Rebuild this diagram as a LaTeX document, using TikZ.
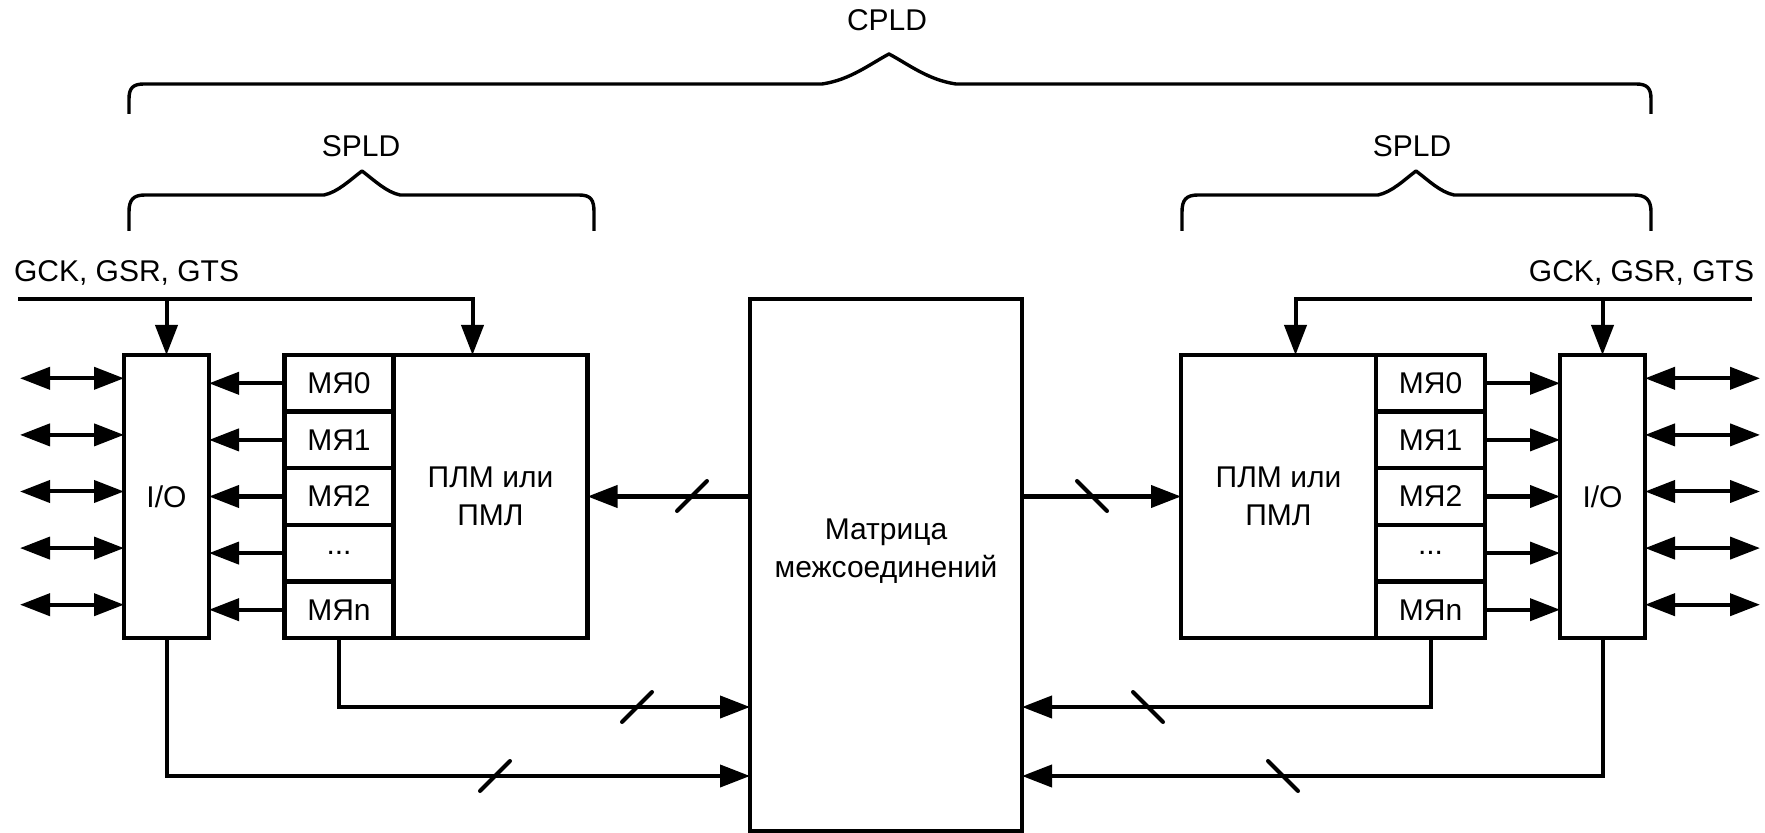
\documentclass[tikz,border=0pt]{standalone}
\usepackage{fontspec}
\setmainfont{Liberation Sans}
\usetikzlibrary{arrows.meta,calc,positioning}

\begin{document}
\begin{tikzpicture}[x=0.5pt,y=-0.5pt,
		font=\fontsize{15}{19}\selectfont,
		line width=2pt,
		box/.style={draw,line width=2.2pt,inner sep=0pt,outer sep=0pt,align=center},
		cell/.style={box,minimum width=54.5pt,minimum height=28.3pt},
		sig/.style={-{Triangle[length=15pt,width=11pt]}},
		bus/.style={{Triangle[length=15pt,width=11pt]}-{Triangle[length=15pt,width=11pt]}},
		brace/.style={line width=1.7pt,line join=round},
		tick/.style={line width=2pt,line cap=round}]
		\useasboundingbox (0,0) rectangle (1765,833);

		% braces
		\node (cpld) at (887,20) {CPLD};
		\draw[brace] (129,114) -- (129,99) .. controls (129,88) and (133,84) .. (144,84) -- (822,84) .. controls (850,80) and (870,64) .. (889,54) .. controls (908,64) and (928,80) .. (956,84) -- (1636,84) .. controls (1647,84) and (1651,88) .. (1651,99) -- (1651,114);
		\node (spldL) at (361,146) {SPLD};
		\draw[brace] (129,231) -- (129,212) .. controls (129,200) and (133,195) .. (145,195) -- (324,195) .. controls (338,192) and (350,180) .. (362,171) .. controls (374,180) and (386,192) .. (400,195) -- (579,195) .. controls (591,195) and (594,200) .. (594,212) -- (594,231);
		\node (spldR) at (1412,146) {SPLD};
		\draw[brace] (1182,231) -- (1182,212) .. controls (1182,200) and (1186,195) .. (1198,195) -- (1378,195) .. controls (1392,192) and (1404,180) .. (1416,171) .. controls (1428,180) and (1440,192) .. (1454,195) -- (1634,195) .. controls (1646,195) and (1651,200) .. (1651,212) -- (1651,231);

		% matrix
		\node[box,minimum width=136pt,minimum height=266pt] (mtx) at (886,565) {};
		\node (mtxtxt) at (886,551) [align=center] {Матрица\\межсоединений};
		\coordinate (mtxWa) at ($(mtx.north west)+(0,408)$);
		\coordinate (mtxWb) at ($(mtx.north west)+(0,477)$);
		\coordinate (mtxEa) at ($(mtx.north east)+(0,408)$);
		\coordinate (mtxEb) at ($(mtx.north east)+(0,477)$);

		% left SPLD
		\node[cell] (mL0) at (339,383.3) {МЯ0};
		\node[cell,below=0pt of mL0] (mL1) {МЯ1};
		\node[cell,below=0pt of mL1] (mL2) {МЯ2};
		\node[cell,below=0pt of mL2] (mL3) {...};
		\node[cell,below=0pt of mL3] (mL4) {МЯn};
		\node[box,minimum width=97pt,minimum height=141.5pt,right=0pt of mL2] (plmL) {ПЛМ или\\ПМЛ};
		\node[box,minimum width=42.5pt,minimum height=141.5pt] (ioL) at (166.5,496.5) {I/O};
		\node[anchor=base west,inner sep=0pt] (gckL) at (12,282) {GCK, GSR, GTS};
		\coordinate (gckLs) at (18,299);

		\draw[sig] (gckLs) -| ($(plmL.north)+(-18,0)$);
		\draw[sig] (ioL.north |- gckLs) -- (ioL.north);
		\foreach \i in {0,...,4}{
			\draw[sig] (mL\i.west) -- (mL\i.west -| ioL.east);
			\coordinate (pinL\i) at ($(ioL.west |- mL\i)+(-104,-5)$);
			\draw[bus] (pinL\i) -- ($(ioL.west |- mL\i)+(0,-5)$);
		}
		\draw[sig] (mtx.west |- plmL.east) -- (plmL.east);
		\draw[sig] (mL4.south) |- (mtxWa);
		\draw[sig] (ioL.south) |- (mtxWb);
		\draw[tick] (677,511) -- (707,481);
		\draw[tick] (622,722) -- (652,692);
		\draw[tick] (480,791) -- (510,761);

		% right SPLD
		\node[cell] (mR0) at (1430.5,383.3) {МЯ0};
		\node[cell,below=0pt of mR0] (mR1) {МЯ1};
		\node[cell,below=0pt of mR1] (mR2) {МЯ2};
		\node[cell,below=0pt of mR2] (mR3) {...};
		\node[cell,below=0pt of mR3] (mR4) {МЯn};
		\node[box,minimum width=97.5pt,minimum height=141.5pt,left=0pt of mR2] (plmR) {ПЛМ или\\ПМЛ};
		\node[box,minimum width=42.5pt,minimum height=141.5pt] (ioR) at (1602.5,496.5) {I/O};
		\node[anchor=base east,inner sep=0pt] (gckR) at (1756,282) {GCK, GSR, GTS};
		\coordinate (gckRs) at (1752,299);

		\draw[sig] (gckRs) -| ($(plmR.north)+(17,0)$);
		\draw[sig] (ioR.north |- gckRs) -- (ioR.north);
		\foreach \i in {0,...,4}{
			\draw[sig] (mR\i.east) -- (mR\i.east -| ioR.west);
			\coordinate (pinR\i) at ($(ioR.east |- mR\i)+(115,-5)$);
			\draw[bus] ($(ioR.east |- mR\i)+(0,-5)$) -- (pinR\i);
		}
		\draw[sig] (mtx.east |- plmR.west) -- (plmR.west);
		\draw[sig] (mR4.south) |- (mtxEa);
		\draw[sig] (ioR.south) |- (mtxEb);
		\draw[tick] (1077,481) -- (1107,511);
		\draw[tick] (1133,692) -- (1163,722);
		\draw[tick] (1268,761) -- (1298,791);
	\end{tikzpicture}
\end{document}
